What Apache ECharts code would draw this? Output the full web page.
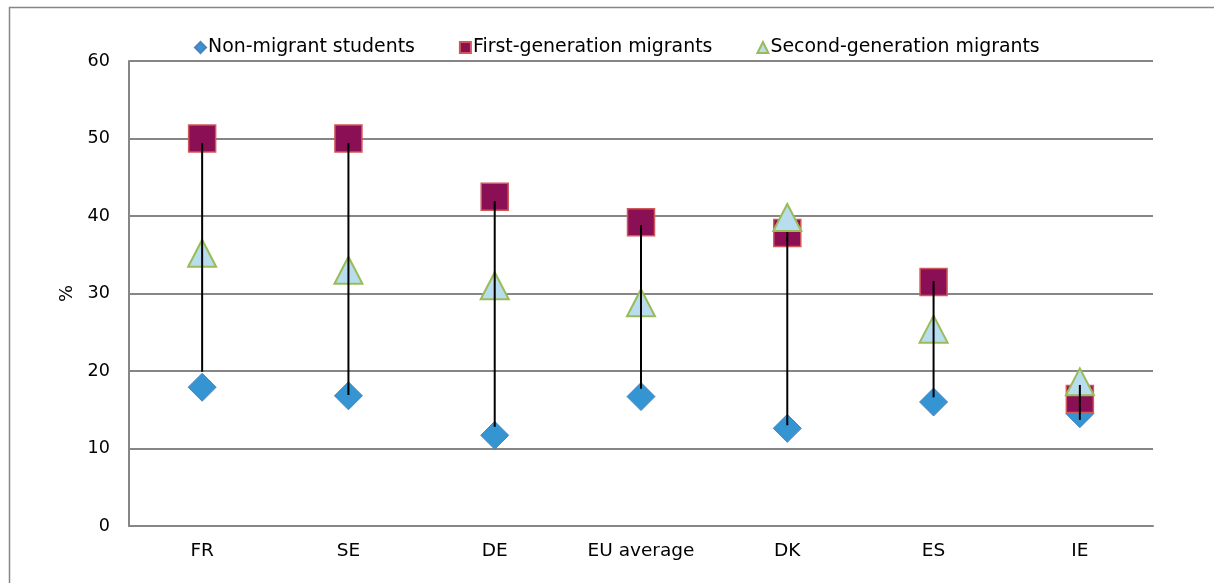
<!DOCTYPE html>
<html>
<head>
<meta charset="utf-8">
<script src="https://cdn.jsdelivr.net/npm/echarts@6/dist/echarts.min.js"></script>
<style>
  html, body { margin: 0; padding: 0; background: #fff; }
  #chart { width: 1214px; height: 583px; }
</style>
</head>
<body>
<div id="chart"></div>
<script>
var countries = ['FR', 'SE', 'DE', 'EU average', 'DK', 'ES', 'IE'];
var nonMigrant = [17.9, 16.8, 11.7, 16.7, 12.6, 16.0, 14.5];
var firstGen = [50.0, 50.0, 42.5, 39.2, 37.8, 31.5, 16.4];
var secondGen = [35.2, 33.0, 31.0, 28.8, 39.8, 25.4, 18.6];
// ends of the black range lines
var lineHigh = [49.4, 49.4, 41.9, 38.8, 37.9, 31.6, 18.2];
var lineLow = [19.9, 16.9, 12.8, 17.7, 13.0, 16.6, 13.7];

var rangeData = countries.map(function (c, i) { return [i, lineHigh[i], lineLow[i]]; });

var chart = echarts.init(document.getElementById('chart'));
var font = 'DejaVu Sans';

var option = {
  animation: false,
  textStyle: { fontFamily: font },
  graphic: [{
    type: 'rect',
    shape: { x: 9.5, y: 7.5, width: 1300, height: 700 },
    style: { fill: 'none', stroke: '#868686', lineWidth: 1.5 },
    silent: true
  }],
  legend: {
    top: 33,
    left: 189,
    itemWidth: 11,
    itemHeight: 11,
    itemGap: 44,
    textStyle: { fontFamily: font, fontSize: 18.9, color: '#000', padding: [0, 0, 0, -3] },
    data: [
      { name: 'Non-migrant students', icon: 'diamond' },
      { name: 'First-generation migrants', icon: 'rect' },
      { name: 'Second-generation migrants', icon: 'triangle' }
    ]
  },
  grid: { left: 129, right: 61, top: 61, bottom: 57 },
  xAxis: {
    type: 'category',
    data: countries,
    boundaryGap: true,
    axisTick: { show: false },
    axisLine: { lineStyle: { color: '#868686', width: 2 } },
    axisLabel: { color: '#000', fontSize: 18.5, margin: 16, fontFamily: font }
  },
  yAxis: {
    type: 'value',
    min: 0,
    max: 60,
    interval: 10,
    name: '%',
    nameLocation: 'middle',
    nameGap: 50,
    nameRotate: 90,
    nameTextStyle: { color: '#000', fontSize: 18, fontFamily: font },
    axisLine: { show: true, lineStyle: { color: '#868686', width: 2 } },
    axisTick: { show: false },
    axisLabel: { color: '#000', fontSize: 17.6, margin: 19, fontFamily: font },
    splitLine: { lineStyle: { color: '#868686', width: 2 } }
  },
  series: [
    {
      name: 'Non-migrant students',
      type: 'scatter',
      symbol: 'diamond',
      symbolSize: [28, 28],
      itemStyle: { color: '#3594D2', borderColor: '#4F81BD', borderWidth: 1, opacity: 1 },
      data: nonMigrant,
      z: 2
    },
    {
      name: 'First-generation migrants',
      type: 'scatter',
      symbol: 'rect',
      symbolSize: [27, 27],
      itemStyle: { color: '#8B0F54', borderColor: '#D0585A', borderWidth: 1.5, opacity: 1 },
      data: firstGen,
      z: 3
    },
    {
      name: 'Second-generation migrants',
      type: 'scatter',
      symbol: 'triangle',
      symbolSize: [28, 27],
      itemStyle: { color: '#B7DDEE', borderColor: '#9BBB59', borderWidth: 2, opacity: 1 },
      data: secondGen,
      z: 4
    },
    {
      name: 'range',
      type: 'custom',
      data: rangeData,
      z: 10,
      silent: true,
      renderItem: function (params, api) {
        var top = api.coord([api.value(0), api.value(1)]);
        var bot = api.coord([api.value(0), api.value(2)]);
        return {
          type: 'line',
          shape: { x1: top[0], y1: top[1], x2: bot[0], y2: bot[1] },
          style: { stroke: '#000', lineWidth: 2 }
        };
      }
    }
  ]
};
chart.setOption(option);
</script>
</body>
</html>
